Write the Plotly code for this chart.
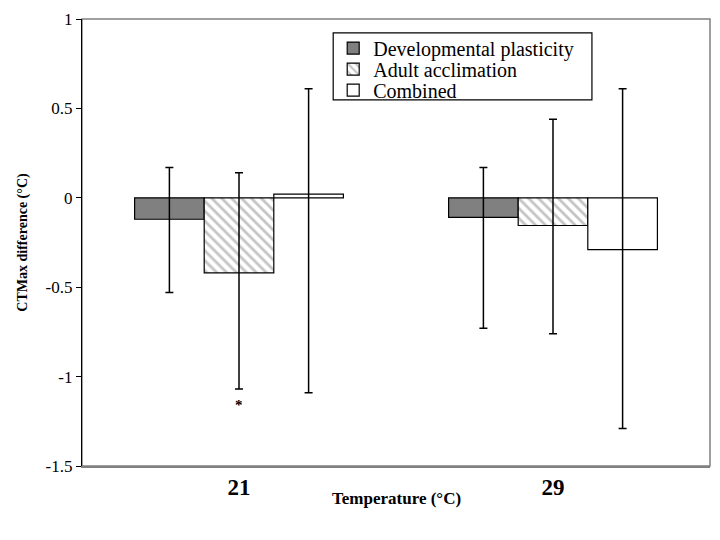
import plotly.graph_objects as go

categories = ["21", "29"]
series_names = ["Developmental plasticity", "Adult acclimation", "Combined"]

dev_values = [-0.12, -0.11]
dev_upper = [0.17, 0.17]
dev_lower = [-0.53, -0.73]

adult_values = [-0.42, -0.155]
adult_upper = [0.14, 0.44]
adult_lower = [-1.07, -0.76]

comb_values = [0.02, -0.29]
comb_upper = [0.61, 0.61]
comb_lower = [-1.09, -1.29]

y_tick_vals = [1, 0.5, 0, -0.5, -1, -1.5]
y_tick_text = ["1", "0.5", "0", "-0.5", "-1", "-1.5"]

star_category = "21"
star_value = -1.16

FONT = "Liberation Serif"
LEGEND_X = 0.40
LEGEND_ROWS_Y = [0.935, 0.888, 0.841]


def err(vals, up, lo):
    return dict(
        type="data",
        symmetric=False,
        array=[u - v for u, v in zip(up, vals)],
        arrayminus=[v - l for v, l in zip(vals, lo)],
        color="black",
        thickness=1.5,
        width=4,
    )


def legend_row(y):
    return dict(
        x=LEGEND_X, y=y, xanchor="left", yanchor="middle",
        borderwidth=0, bgcolor="rgba(0,0,0,0)",
        font=dict(family=FONT, size=20, color="black"),
        itemwidth=30,
    )


fig = go.Figure()
fig.add_trace(go.Bar(
    name=series_names[0], x=categories, y=dev_values, legend="legend",
    marker=dict(color="#808080", line=dict(color="black", width=1.2)),
    error_y=err(dev_values, dev_upper, dev_lower),
))
fig.add_trace(go.Bar(
    name=series_names[1], x=categories, y=adult_values, legend="legend2",
    marker=dict(color="white", line=dict(color="black", width=1.2),
                pattern=dict(shape="\\", fgcolor="#8c8c8c", bgcolor="white",
                             size=7, solidity=0.4)),
    error_y=err(adult_values, adult_upper, adult_lower),
))
fig.add_trace(go.Bar(
    name=series_names[2], x=categories, y=comb_values, legend="legend3",
    marker=dict(color="white", line=dict(color="black", width=1.2)),
    error_y=err(comb_values, comb_upper, comb_lower),
))

fig.update_layout(
    width=720, height=540,
    margin=dict(l=74, r=18, t=11, b=82, autoexpand=False),
    paper_bgcolor="white", plot_bgcolor="white",
    barmode="group", bargap=0.335, bargroupgap=0,
    font=dict(family=FONT, color="black"),
    showlegend=True,
    legend=legend_row(LEGEND_ROWS_Y[0]),
    legend2=legend_row(LEGEND_ROWS_Y[1]),
    legend3=legend_row(LEGEND_ROWS_Y[2]),
    xaxis=dict(
        type="category", categoryarray=categories, range=[-0.5, 1.5],
        showline=True, linecolor="#808080", linewidth=1.5,
        ticks="", showgrid=False, zeroline=False, automargin=False,
        tickfont=dict(family=FONT, size=23, color="black", weight="bold"),
        ticklabelstandoff=0,
    ),
    xaxis2=dict(
        type="category", categoryarray=categories, range=[-0.5, 1.5],
        overlaying="x", anchor="free", position=0.6,
        showline=True, linecolor="black", linewidth=1.2,
        tickson="boundaries", ticks="outside", ticklen=5, tickcolor="black",
        showticklabels=False, showgrid=False, zeroline=False, automargin=False,
    ),
    yaxis=dict(
        range=[-1.5, 1], tickvals=y_tick_vals, ticktext=y_tick_text,
        showline=True, linecolor="black", linewidth=1.2,
        ticks="outside", ticklen=5, tickcolor="black",
        showgrid=False, zeroline=False, automargin=False,
        tickfont=dict(family=FONT, size=17, color="black"),
        title=dict(text="<b>CTMax difference (°C)</b>",
                   font=dict(family=FONT, size=14, color="black"), standoff=14),
    ),
    shapes=[
        dict(type="rect", xref="paper", yref="paper", x0=0, x1=1, y0=0, y1=1,
             line=dict(color="#808080", width=1.5), layer="below"),
        dict(type="rect", xref="paper", yref="paper", x0=0.40, x1=0.812,
             y0=0.819, y1=0.969, line=dict(color="black", width=1.2),
             fillcolor="white", layer="above"),
    ],
    annotations=[
        dict(x=categories.index(star_category), y=star_value, xref="x", yref="y",
             text="<b>*</b>", showarrow=False,
             font=dict(family=FONT, size=15, color="black")),
        dict(x=0.5, y=-0.048, xref="paper", yref="paper", yanchor="top",
             text="<b>Temperature (°C)</b>", showarrow=False,
             font=dict(family=FONT, size=17, color="black")),
    ],
)

fig.write_html("out.html")
